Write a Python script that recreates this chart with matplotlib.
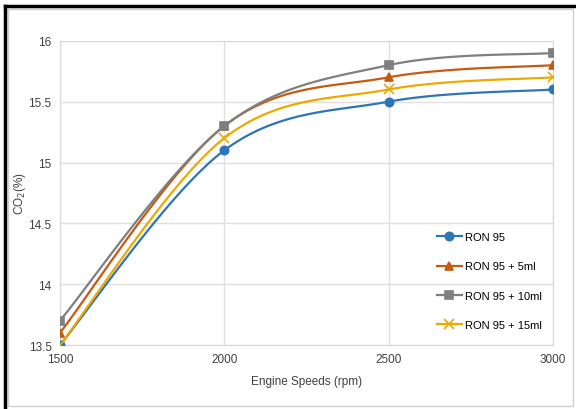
import numpy as np
import matplotlib.pyplot as plt
from matplotlib.lines import Line2D
from matplotlib.patches import Rectangle

speeds = [1500, 2000, 2500, 3000]
ron95 = [13.5, 15.1, 15.5, 15.6]
ron95_5ml = [13.6, 15.3, 15.7, 15.8]
ron95_10ml = [13.7, 15.3, 15.8, 15.9]
ron95_15ml = [13.5, 15.2, 15.6, 15.7]

series = [
    ("RON 95", ron95, "#2E75B6", "o"),
    ("RON 95 + 5ml", ron95_5ml, "#C55A11", "^"),
    ("RON 95 + 10ml", ron95_10ml, "#7F7F7F", "s"),
    ("RON 95 + 15ml", ron95_15ml, "#EBAA00", "x"),
]


def smooth(xs, ys, n=40):
    # Catmull-Rom style bezier, roughly what Excel's "smoothed line" does
    xs = np.asarray(xs, float)
    ys = np.asarray(ys, float)
    px = np.concatenate([[xs[0]], xs, [xs[-1]]])
    py = np.concatenate([[ys[0]], ys, [ys[-1]]])
    out_x, out_y = [], []
    t = np.linspace(0, 1, n)
    for i in range(1, len(px) - 2):
        p0 = np.array([px[i], py[i]])
        p3 = np.array([px[i + 1], py[i + 1]])
        c1 = p0 + (np.array([px[i + 1], py[i + 1]]) - np.array([px[i - 1], py[i - 1]])) / 6
        c2 = p3 - (np.array([px[i + 2], py[i + 2]]) - np.array([px[i], py[i]])) / 6
        b = ((1 - t) ** 3)[:, None] * p0 + (3 * (1 - t) ** 2 * t)[:, None] * c1 \
            + (3 * (1 - t) * t ** 2)[:, None] * c2 + (t ** 3)[:, None] * p3
        out_x.extend(b[:, 0])
        out_y.extend(b[:, 1])
    return out_x, out_y


plt.rcParams["font.family"] = ["Liberation Sans", "DejaVu Sans"]

fig = plt.figure(figsize=(5.76, 4.10), dpi=100)
ax = fig.add_axes([0.104, 0.156, 0.856, 0.742])

for label, vals, color, marker in series:
    sx, sy = smooth(speeds, vals)
    ax.plot(sx, sy, color=color, lw=1.6, zorder=3)
    ax.plot(speeds, vals, ls="none", marker=marker, color=color,
            markersize=6 if marker != "x" else 7, mew=1.2, zorder=4)

handles = [Line2D([0], [0], color=c, lw=1.6, marker=m,
                  markersize=6 if m != "x" else 7, mew=1.2)
           for _, _, c, m in series]
ax.legend(handles, [s[0] for s in series], loc="center left",
          bbox_to_anchor=(0.745, 0.21), frameon=False, fontsize=8,
          labelspacing=1.75, handlelength=2.2, handletextpad=0.3)

ax.set_xlim(1500, 3000)
ax.set_ylim(13.5, 16)
ax.set_xticks(speeds)
ax.set_yticks([13.5, 14, 14.5, 15, 15.5, 16])
ax.set_yticklabels(["13.5", "14", "14.5", "15", "15.5", "16"])
ax.tick_params(length=0, labelsize=8.5, colors="#404040", pad=6)
ax.grid(True, color="#E0E0E0", lw=1)
for sp in ax.spines.values():
    sp.set_color("#D9D9D9")
ax.set_axisbelow(True)
ax.set_xlabel("Engine Speeds (rpm)", fontsize=8.5, color="#404040", labelpad=7)
ax.set_ylabel("CO$_2$(%)", fontsize=8.5, color="#404040")
ax.yaxis.set_label_coords(-0.064, 0.5)

# chart frame: thin gray outer box, thick black top/left edge
fig.add_artist(Rectangle((8 / 576, 3 / 410), 565 / 576, 397 / 410,
                         transform=fig.transFigure, fill=False,
                         ec="#D0D0D0", lw=1))
fig.add_artist(Line2D([5 / 576, 574 / 576], [403 / 410, 403 / 410],
                      transform=fig.transFigure, color="black", lw=2.5))
fig.add_artist(Line2D([5 / 576, 5 / 576], [0, 403 / 410],
                      transform=fig.transFigure, color="black", lw=2.5))

fig.savefig("out.png", dpi=100)
